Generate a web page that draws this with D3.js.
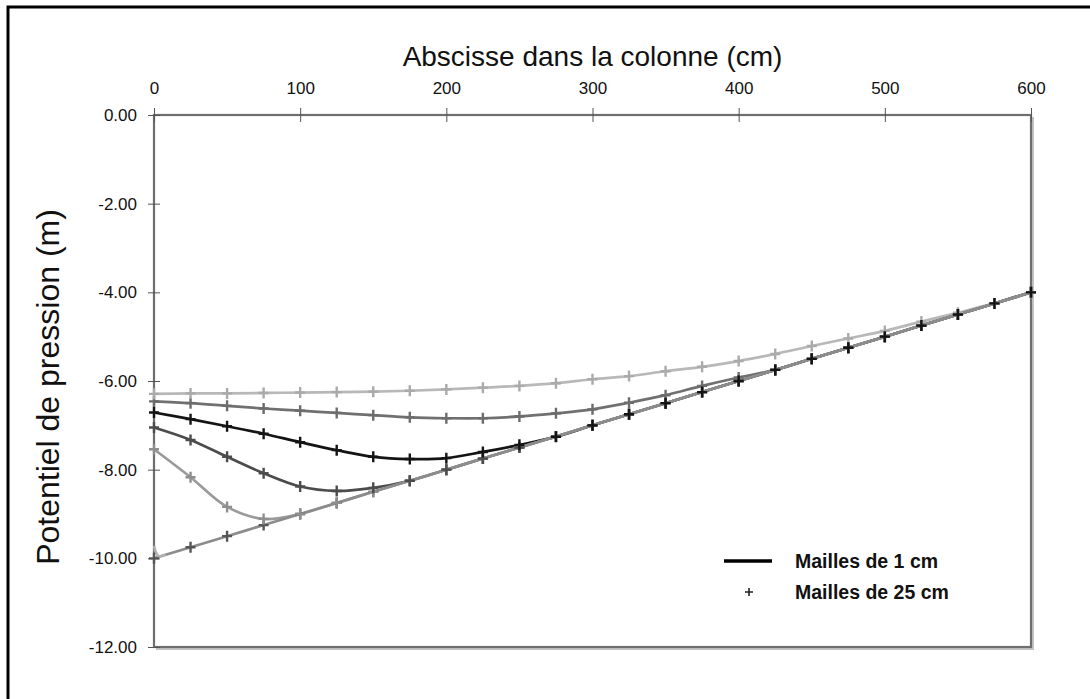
<!DOCTYPE html>
<html>
<head>
<meta charset="utf-8">
<script src="https://cdn.jsdelivr.net/npm/d3@7/dist/d3.min.js"></script>
<style>
  html, body { margin: 0; padding: 0; background: #fff; }
  svg { display: block; }
  text { font-family: "Liberation Sans", Arial, sans-serif; fill: #111; }
</style>
</head>
<body>
<svg id="chart" width="1090" height="699"></svg>
<script>
// Abscissa of the 25 cm mesh nodes (cm)
const xNodes = [0, 25, 50, 75, 100, 125, 150, 175, 200, 225, 250, 275, 300,
                325, 350, 375, 400, 425, 450, 475, 500, 525, 550, 575, 600];

// Pressure head profiles (m) at successive times
const profileA = [-6.29, -6.28, -6.28, -6.27, -6.26, -6.25, -6.24, -6.22, -6.19, -6.15, -6.11, -6.05, -5.96,
                  -5.89, -5.78, -5.68, -5.55, -5.39, -5.21, -5.04, -4.87, -4.66, -4.46, -4.25, -4.01];
const profileB = [-6.46, -6.50, -6.56, -6.62, -6.67, -6.72, -6.77, -6.82, -6.84, -6.84, -6.80, -6.73, -6.64,
                  -6.49, -6.32, -6.11, -5.92, -5.75, -5.50, -5.25, -5.00, -4.75, -4.50, -4.25, -4.00];
const profileC = [-6.71, -6.86, -7.02, -7.19, -7.38, -7.56, -7.71, -7.76, -7.74, -7.60, -7.44, -7.26, -7.00,
                  -6.75, -6.50, -6.25, -6.00, -5.75, -5.50, -5.25, -5.00, -4.75, -4.50, -4.25, -4.00];
const profileD = [-7.05, -7.33, -7.71, -8.08, -8.38, -8.48, -8.41, -8.25, -8.00, -7.75, -7.50, -7.25, -7.00,
                  -6.75, -6.50, -6.25, -6.00, -5.75, -5.50, -5.25, -5.00, -4.75, -4.50, -4.25, -4.00];
const profileE = [-7.54, -8.17, -8.84, -9.11, -9.00, -8.75, -8.50, -8.25, -8.00, -7.75, -7.50, -7.25, -7.00,
                  -6.75, -6.50, -6.25, -6.00, -5.75, -5.50, -5.25, -5.00, -4.75, -4.50, -4.25, -4.00];
const profileInit = [-10.00, -9.75, -9.50, -9.25, -9.00, -8.75, -8.50, -8.25, -8.00, -7.75, -7.50, -7.25, -7.00,
                     -6.75, -6.50, -6.25, -6.00, -5.75, -5.50, -5.25, -5.00, -4.75, -4.50, -4.25, -4.00];

// Boundary layer near x = 0 on the fine mesh (1 cm)
const edgeX = [0, 1, 2, 3, 4, 6, 8];
const edgeY = [-9.72, -9.84, -9.91, -9.95, -9.96, -9.94, -9.92];

// Tick labels
const xTicks = [0, 100, 200, 300, 400, 500, 600];
const yTicks = [0, -2, -4, -6, -8, -10, -12];

const legendLabels = ["Mailles de 1 cm", "Mailles de 25 cm"];

const series = [
  { values: profileInit, line: "#8c8c8c", mark: "#555555" },
  { values: profileE,    line: "#9a9a9a", mark: "#8e8e8e" },
  { values: profileD,    line: "#4c4c4c", mark: "#4c4c4c" },
  { values: profileB,    line: "#707070", mark: "#6c6c6c" },
  { values: profileA,    line: "#b8b8b8", mark: "#aaaaaa" },
  { values: profileC,    line: "#141414", mark: "#141414" }
];

const svg = d3.select("#chart");

// Outer frame of the figure
svg.append("rect")
  .attr("x", 8).attr("y", 7).attr("width", 1200).attr("height", 800)
  .attr("fill", "none").attr("stroke", "#000").attr("stroke-width", 3);

const plot = { left: 154, right: 1031, top: 115, bottom: 647 };

const x = d3.scaleLinear().domain([0, 600]).range([plot.left, plot.right]);
const y = d3.scaleLinear().domain([-12, 0]).range([plot.bottom, plot.top]);

// Plot frame with a light shadow
const g = svg.append("g");
g.append("path")
  .attr("d", `M${plot.left + 2},${plot.bottom + 2}H${plot.right + 2}V${plot.top + 2}`)
  .attr("fill", "none").attr("stroke", "#c4c4c4").attr("stroke-width", 2);
g.append("rect")
  .attr("x", plot.left).attr("y", plot.top)
  .attr("width", plot.right - plot.left).attr("height", plot.bottom - plot.top)
  .attr("fill", "none").attr("stroke", "#6e6e6e").attr("stroke-width", 2.2);

// Top axis
const xAxis = d3.axisTop(x).tickValues(xTicks).tickSizeInner(7).tickSizeOuter(0).tickPadding(14)
  .tickFormat(d3.format("d"));
const gx = svg.append("g").attr("transform", `translate(0,${plot.top})`).call(xAxis);
gx.select(".domain").remove();
gx.selectAll(".tick line").attr("stroke", "#555").attr("y1", 7).attr("y2", -7);
gx.selectAll(".tick text").attr("font-size", 17).attr("fill", "#111")
  .attr("font-family", "Liberation Sans, Arial, sans-serif");

// Left axis, plain hyphen for negative values
const fmtY = d3.format(".2f");
const yAxis = d3.axisLeft(y).tickValues(yTicks).tickSizeInner(6).tickSizeOuter(0).tickPadding(11)
  .tickFormat(d => fmtY(d).replace("\u2212", "-"));
const gy = svg.append("g").attr("transform", `translate(${plot.left},0)`).call(yAxis);
gy.select(".domain").remove();
gy.selectAll(".tick line").attr("stroke", "#555").attr("x1", 6).attr("x2", -6);
gy.selectAll(".tick text").attr("font-size", 17).attr("fill", "#111")
  .attr("font-family", "Liberation Sans, Arial, sans-serif");

// Axis titles
svg.append("text")
  .attr("x", (plot.left + plot.right) / 2).attr("y", 66)
  .attr("text-anchor", "middle").attr("font-size", 28)
  .text("Abscisse dans la colonne (cm)");
svg.append("text")
  .attr("transform", `translate(59,387) rotate(-90)`)
  .attr("text-anchor", "middle").attr("font-size", 32)
  .text("Potentiel de pression (m)");

// Curves
const lineGen = d3.line()
  .x(d => x(d[0])).y(d => y(d[1]))
  .curve(d3.curveCatmullRom.alpha(0.5));

const curves = svg.append("g");
const order = [5, 4, 3, 2, 1, 0];
order.forEach(i => {
  const s = series[i];
  curves.append("path")
    .datum(xNodes.map((xv, k) => [xv, s.values[k]]))
    .attr("d", lineGen)
    .attr("fill", "none").attr("stroke", s.line).attr("stroke-width", 2.7)
    .attr("stroke-linejoin", "round");
});
curves.append("path")
  .datum(edgeX.map((xv, k) => [xv, edgeY[k]]))
  .attr("d", lineGen)
  .attr("fill", "none").attr("stroke", "#b0b0b0").attr("stroke-width", 2.6);

// 25 cm mesh markers
const plus = "M-5,0H5M0,-5.5V5.5";
const marks = svg.append("g");
series.forEach(s => {
  marks.selectAll(null)
    .data(xNodes.map((xv, k) => [xv, s.values[k]]))
    .join("path")
    .attr("transform", d => `translate(${x(d[0])},${y(d[1])})`)
    .attr("d", plus)
    .attr("stroke", s.mark).attr("stroke-width", 2.4).attr("fill", "none");
});

// Legend
const lg = svg.append("g");
lg.append("line")
  .attr("x1", 724).attr("x2", 772).attr("y1", 561).attr("y2", 561)
  .attr("stroke", "#000").attr("stroke-width", 3.5);
lg.append("path")
  .attr("transform", "translate(749,592)")
  .attr("d", "M-4,0H4M0,-4V4")
  .attr("stroke", "#222").attr("stroke-width", 1.6);
lg.selectAll("text.leg")
  .data(legendLabels)
  .join("text")
  .attr("class", "leg")
  .attr("x", 795).attr("y", (d, i) => 568 + i * 31)
  .attr("font-size", 19.5).attr("font-weight", "bold")
  .text(d => d);
</script>
</body>
</html>
